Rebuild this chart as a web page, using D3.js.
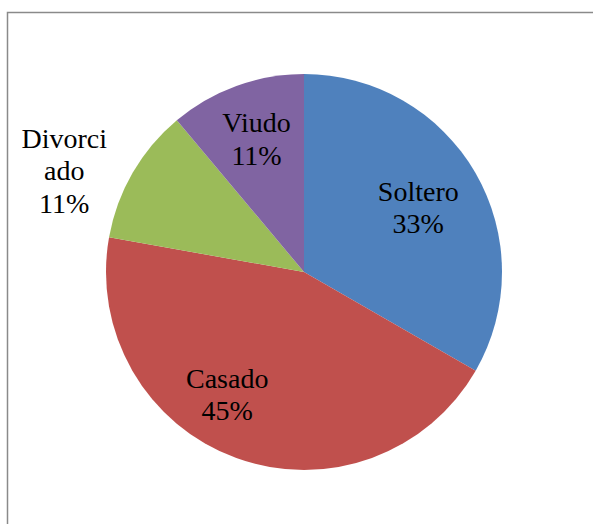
<!DOCTYPE html>
<html>
<head>
<meta charset="utf-8">
<script src="https://cdn.jsdelivr.net/npm/d3@7"></script>
<style>
  body { margin: 0; background: #fff; }
</style>
</head>
<body>
<script>
// Chart data
var categories = ["Soltero", "Casado", "Divorciado", "Viudo"];
var values = [33.3, 44.5, 11.1, 11.1];
var pctLabels = ["33%", "45%", "11%", "11%"];
var colors = ["#4f81bd", "#c0504d", "#9bbb59", "#8064a2"];

var width = 593,
    height = 524,
    cx = 304,
    cy = 272,
    radius = 198;

// label placement: distance from centre and angle shift (deg) from slice middle
var labelPlace = {
  "Soltero": { r: 131, shift: 0.8 },
  "Casado": { r: 145, shift: 12 },
  "Divorciado": { r: 260, shift: -7.3 },
  "Viudo": { r: 141, shift: 0.3 }
};

var svg = d3.select("body").append("svg")
    .attr("width", width)
    .attr("height", height);

// chart frame
svg.append("rect")
    .attr("x", 7.5)
    .attr("y", 12.5)
    .attr("width", 700)
    .attr("height", 600)
    .attr("fill", "none")
    .attr("stroke", "#8a8a8a")
    .attr("stroke-width", 1.5);

var color = d3.scaleOrdinal()
    .domain(categories)
    .range(colors);

var pie = d3.pie()
    .sort(null)
    .value(function(d) { return d.value; });

var arc = d3.arc()
    .innerRadius(0)
    .outerRadius(radius);

var data = categories.map(function(c, i) {
  return { name: c, value: values[i], pct: pctLabels[i] };
});

var g = svg.append("g")
    .attr("transform", "translate(" + cx + "," + cy + ")");

var slices = pie(data);

g.selectAll("path")
    .data(slices)
  .enter().append("path")
    .attr("d", arc)
    .attr("fill", function(d) { return color(d.data.name); });

// labels, one text element per line
var lh = 32.5;
slices.forEach(function(d) {
  var p = labelPlace[d.data.name];
  var a = (d.startAngle + d.endAngle) / 2 + p.shift * Math.PI / 180;
  var x = Math.sin(a) * p.r,
      y = -Math.cos(a) * p.r;
  var name = d.data.name;
  var lines = name.length > 7 ? [name.slice(0, 7), name.slice(7)] : [name];
  lines.push(d.data.pct);
  var first = y + 9 - (lines.length - 1) * lh / 2;
  lines.forEach(function(l, i) {
    g.append("text")
      .attr("x", x)
      .attr("y", first + i * lh)
      .attr("font-family", "Liberation Serif")
      .attr("font-size", 28)
      .attr("text-anchor", "middle")
      .attr("fill", "#000")
      .text(l);
  });
});
</script>
</body>
</html>
